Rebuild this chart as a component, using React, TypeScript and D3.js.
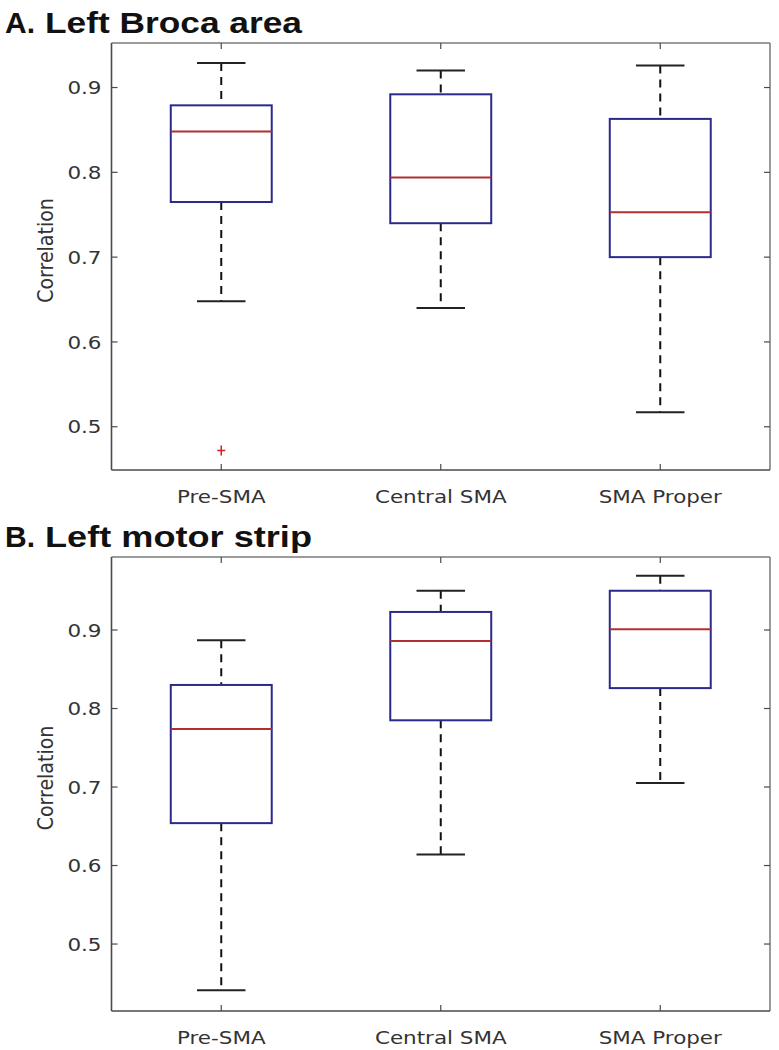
import React from "react";
import * as d3 from "d3";

const categories = ["Pre-SMA", "Central SMA", "SMA Proper"];
const yTicks = [0.5, 0.6, 0.7, 0.8, 0.9];

// Panel A: Left Broca area
const brocaUpper = [0.929, 0.92, 0.926];
const brocaQ3 = [0.879, 0.892, 0.863];
const brocaMedian = [0.848, 0.794, 0.753];
const brocaQ1 = [0.765, 0.74, 0.70];
const brocaLower = [0.648, 0.64, 0.517];
const brocaOutliers = [[0.472], [], []];

// Panel B: Left motor strip
const motorUpper = [0.887, 0.950, 0.969];
const motorQ3 = [0.830, 0.923, 0.950];
const motorMedian = [0.774, 0.886, 0.901];
const motorQ1 = [0.654, 0.785, 0.826];
const motorLower = [0.441, 0.614, 0.705];
const motorOutliers = [[], [], []];

const W = 779;
const H = 1050;

type PanelProps = {
  letter: string;
  title: string;
  titleLen: number;
  top: number;
  bottom: number;
  yDomain: [number, number];
  upper: number[];
  q3: number[];
  median: number[];
  q1: number[];
  lower: number[];
  outliers: number[][];
};

const LEFT = 111.5;
const RIGHT = 770;
const axisColor = "#4a4a4a";
const axisLight = "#7a7a7a";
const textColor = "#333";
const boxColor = "#2a2a8c";
const medColor = "#b03030";
const tickFont = "DejaVu Sans, sans-serif";
const SX = 1.16;

function Panel(p: PanelProps) {
  const x = d3.scaleLinear().domain([0.5, 3.5]).range([LEFT, RIGHT]);
  const y = d3.scaleLinear().domain(p.yDomain).range([p.bottom, p.top]);
  const unit = x(2) - x(1);
  const bw = unit * 0.46;
  const cw = bw * 0.48;
  const titleFont = "Liberation Sans, Arial, sans-serif";
  return (
    <g>
      <text x={5} y={p.top - 10} fontFamily={titleFont} fontWeight="bold" fontSize={30} fill="#111" textLength={30} lengthAdjust="spacingAndGlyphs">
        {p.letter}
      </text>
      <text x={45} y={p.top - 10} fontFamily={titleFont} fontWeight="bold" fontSize={30} fill="#111" textLength={p.titleLen} lengthAdjust="spacingAndGlyphs">
        {p.title}
      </text>
      {/* axes frame */}
      <line x1={LEFT} x2={RIGHT} y1={p.top} y2={p.top} stroke={axisLight} strokeWidth={1.5} />
      <line x1={RIGHT} x2={RIGHT} y1={p.top} y2={p.bottom} stroke={axisLight} strokeWidth={1.5} />
      <line x1={LEFT} x2={LEFT} y1={p.top} y2={p.bottom} stroke={axisColor} strokeWidth={1.6} />
      <line x1={LEFT} x2={RIGHT} y1={p.bottom} y2={p.bottom} stroke={axisColor} strokeWidth={1.6} />
      {yTicks.map((t) => (
        <g key={t}>
          <line x1={LEFT} x2={LEFT + 6} y1={y(t)} y2={y(t)} stroke={axisColor} strokeWidth={1.2} />
          <line x1={RIGHT} x2={RIGHT - 6} y1={y(t)} y2={y(t)} stroke={axisColor} strokeWidth={1.2} />
          <g transform={`translate(${LEFT - 10},${y(t)}) scale(${SX},1)`}>
            <text dy="0.36em" textAnchor="end" fontFamily={tickFont} fontSize={18.5} fill={textColor}>
              {t.toFixed(1)}
            </text>
          </g>
        </g>
      ))}
      {categories.map((c, i) => (
        <g key={c}>
          <line x1={x(i + 1)} x2={x(i + 1)} y1={p.bottom} y2={p.bottom - 6} stroke={axisColor} strokeWidth={1.2} />
          <line x1={x(i + 1)} x2={x(i + 1)} y1={p.top} y2={p.top + 6} stroke={axisColor} strokeWidth={1.2} />
          <g transform={`translate(${x(i + 1)},${p.bottom + 33}) scale(${SX},1)`}>
            <text textAnchor="middle" fontFamily={tickFont} fontSize={18.5} fill={textColor}>
              {c}
            </text>
          </g>
        </g>
      ))}
      <g transform={`translate(53,${(p.top + p.bottom) / 2 - 6}) rotate(-90) scale(1,${SX})`}>
        <text textAnchor="middle" fontFamily={tickFont} fontSize={19} fill={textColor}>
          Correlation
        </text>
      </g>
      {categories.map((c, i) => {
        const cx = x(i + 1);
        return (
          <g key={"b" + c}>
            <line x1={cx} x2={cx} y1={y(p.upper[i])} y2={y(p.q3[i])} stroke="#111" strokeWidth={2} strokeDasharray="8,6" />
            <line x1={cx} x2={cx} y1={y(p.q1[i])} y2={y(p.lower[i])} stroke="#111" strokeWidth={2} strokeDasharray="8,6" />
            <line x1={cx - cw / 2} x2={cx + cw / 2} y1={y(p.upper[i])} y2={y(p.upper[i])} stroke="#222" strokeWidth={2} />
            <line x1={cx - cw / 2} x2={cx + cw / 2} y1={y(p.lower[i])} y2={y(p.lower[i])} stroke="#222" strokeWidth={2} />
            <rect
              x={cx - bw / 2}
              y={y(p.q3[i])}
              width={bw}
              height={y(p.q1[i]) - y(p.q3[i])}
              fill="none"
              stroke={boxColor}
              strokeWidth={2}
            />
            <line x1={cx - bw / 2} x2={cx + bw / 2} y1={y(p.median[i])} y2={y(p.median[i])} stroke={medColor} strokeWidth={2} />
            {p.outliers[i].map((o, k) => (
              <g key={k}>
                <line x1={cx - 4} x2={cx + 4} y1={y(o)} y2={y(o)} stroke="#d02020" strokeWidth={1.5} />
                <line x1={cx} x2={cx} y1={y(o) - 5} y2={y(o) + 5} stroke="#d02020" strokeWidth={1.5} />
              </g>
            ))}
          </g>
        );
      })}
    </g>
  );
}

export default function App() {
  return (
    <svg width={W} height={H} style={{ position: "absolute", left: 0, top: 0, background: "#fff" }}>
      <Panel
        letter="A."
        title="Left Broca area"
        titleLen={257}
        top={43}
        bottom={470}
        yDomain={[0.449, 0.9525]}
        upper={brocaUpper}
        q3={brocaQ3}
        median={brocaMedian}
        q1={brocaQ1}
        lower={brocaLower}
        outliers={brocaOutliers}
      />
      <Panel
        letter="B."
        title="Left motor strip"
        titleLen={267}
        top={557}
        bottom={1011}
        yDomain={[0.4147, 0.993]}
        upper={motorUpper}
        q3={motorQ3}
        median={motorMedian}
        q1={motorQ1}
        lower={motorLower}
        outliers={motorOutliers}
      />
    </svg>
  );
}
